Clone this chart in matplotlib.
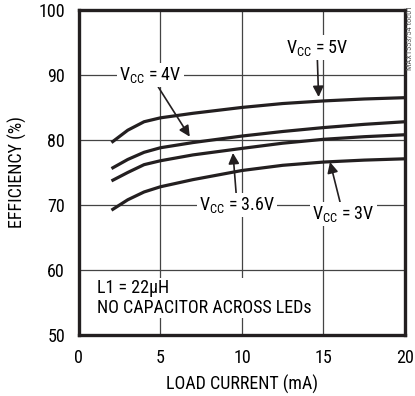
import matplotlib
matplotlib.use("Agg")
import matplotlib.pyplot as plt

plt.rcParams['font.family'] = ['Roboto Condensed', 'Liberation Sans', 'DejaVu Sans']
plt.rcParams['mathtext.fontset'] = 'custom'
plt.rcParams['mathtext.rm'] = 'Roboto Condensed'
plt.rcParams['mathtext.it'] = 'Roboto Condensed'

# load current (mA) and efficiency (%) per supply voltage
load_ma = [2, 3, 4, 5, 7, 10, 12.5, 15, 17.5, 20]
eff_5v = [79.6, 81.5, 82.8, 83.4, 84.1, 85.0, 85.6, 86.0, 86.3, 86.5]
eff_4v = [75.6, 77.0, 78.1, 78.8, 79.6, 80.6, 81.3, 81.9, 82.4, 82.8]
eff_36v = [73.7, 75.0, 76.2, 76.8, 77.7, 78.7, 79.5, 80.1, 80.5, 80.8]
eff_3v = [69.2, 70.8, 72.0, 72.8, 73.9, 75.3, 76.1, 76.6, 76.9, 77.1]

x_ticks = [0, 5, 10, 15, 20]
y_ticks = [50, 60, 70, 80, 90, 100]

fs = 13

fig = plt.figure(figsize=(4.15, 3.96), dpi=100)
ax = fig.add_axes([0.190, 0.154, 0.786, 0.821])

for eff in (eff_5v, eff_4v, eff_36v, eff_3v):
    ax.plot(load_ma, eff, color='#231f20', lw=2.3, solid_capstyle='butt', zorder=3)

ax.set_xlim(0, 20)
ax.set_ylim(50, 100)
ax.set_xticks(x_ticks)
ax.set_yticks(y_ticks)
ax.tick_params(length=0, labelsize=fs, pad=10)
ax.grid(True, color='#444444', lw=0.9)
ax.set_axisbelow(True)
for sp in ax.spines.values():
    sp.set_linewidth(2.4)
    sp.set_color('#231f20')

ax.set_xlabel('LOAD CURRENT (mA)', fontsize=fs, labelpad=6)
ax.set_ylabel('EFFICIENCY (%)', fontsize=fs, labelpad=8)

box = dict(facecolor='white', edgecolor='none', pad=1.5)
vcc = r'$\mathregular{V_{CC}}$'
arrow = dict(arrowstyle='-|>', color='#231f20', lw=1.2, mutation_scale=16,
             shrinkA=0, shrinkB=0)

ax.annotate(vcc + ' = 4V', xy=(6.8, 80.5), xytext=(4.4, 90), fontsize=fs,
            ha='center', va='center', bbox=box, arrowprops=arrow, zorder=4)
ax.annotate(vcc + ' = 5V', xy=(14.7, 86.6), xytext=(14.6, 94.2), fontsize=fs,
            ha='center', va='center', bbox=box, arrowprops=arrow, zorder=4)
ax.annotate(vcc + ' = 3.6V', xy=(9.45, 78.0), xytext=(9.7, 70.0), fontsize=fs,
            ha='center', va='center', bbox=box, arrowprops=arrow, zorder=4)
ax.annotate(vcc + ' = 3V', xy=(15.4, 76.6), xytext=(16.2, 68.6), fontsize=fs,
            ha='center', va='center', bbox=box, arrowprops=arrow, zorder=4)

ax.text(1.1, 55.7, 'L1 = 22\u00b5H\nNO CAPACITOR ACROSS LEDs', fontsize=fs,
        ha='left', va='center', linespacing=1.15,
        bbox=dict(facecolor='white', edgecolor='none', pad=0.5), zorder=4)

fig.text(0.995, 0.985, 'MAX1553/54 toc01', rotation=90, fontsize=6,
         color='#555555', ha='right', va='top')

fig.savefig('out.png', dpi=100)
